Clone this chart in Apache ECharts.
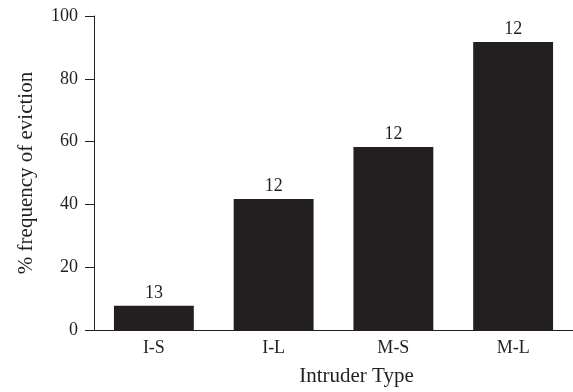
<!DOCTYPE html>
<html>
<head>
<meta charset="utf-8">
<script src="https://cdn.jsdelivr.net/npm/echarts@6/dist/echarts.min.js"></script>
<style>
html,body{margin:0;padding:0;background:#fff;}
#chart{width:573px;height:392px;}
</style>
</head>
<body>
<div id="chart"></div>
<script>
var categories = ['I-S', 'I-L', 'M-S', 'M-L'];
var evictionPct = [7.7, 41.7, 58.3, 91.7];
var sampleSizes = ['13', '12', '12', '12'];
var yTicks = [0, 20, 40, 60, 80, 100];

var font = 'Liberation Serif, Times New Roman, serif';
var ink = '#231f20';
var chart = echarts.init(document.getElementById('chart'), null, {renderer: 'canvas'});
chart.setOption({
  animation: false,
  backgroundColor: '#fff',
  grid: {left: 94, top: 16, width: 480, height: 321, containLabel: false},
  xAxis: {
    type: 'category',
    data: categories,
    name: 'Intruder Type',
    nameLocation: 'middle',
    nameGap: 36,
    nameTextStyle: {fontFamily: font, fontSize: 21, color: ink, padding: [0, 0, 0, 46]},
    axisLine: {lineStyle: {color: ink, width: 1}},
    axisTick: {show: false},
    axisLabel: {fontFamily: font, fontSize: 18, color: ink, margin: 9}
  },
  yAxis: {
    type: 'value',
    min: yTicks[0],
    max: yTicks[yTicks.length - 1],
    interval: 20,
    name: '% frequency of eviction',
    nameLocation: 'middle',
    nameGap: 57,
    nameTextStyle: {fontFamily: font, fontSize: 21, color: ink},
    axisLine: {show: true, lineStyle: {color: ink, width: 1}},
    axisTick: {show: true, inside: false, length: 9, lineStyle: {color: ink}},
    splitLine: {show: false},
    axisLabel: {fontFamily: font, fontSize: 18, color: ink, margin: 16}
  },
  series: [{
    type: 'bar',
    data: evictionPct,
    barCategoryGap: '33.3%',
    itemStyle: {color: ink},
    label: {
      show: true,
      position: 'top',
      distance: 4,
      fontFamily: font,
      fontSize: 18,
      color: ink,
      formatter: function (p) { return sampleSizes[p.dataIndex]; }
    }
  }]
});
</script>
</body>
</html>
